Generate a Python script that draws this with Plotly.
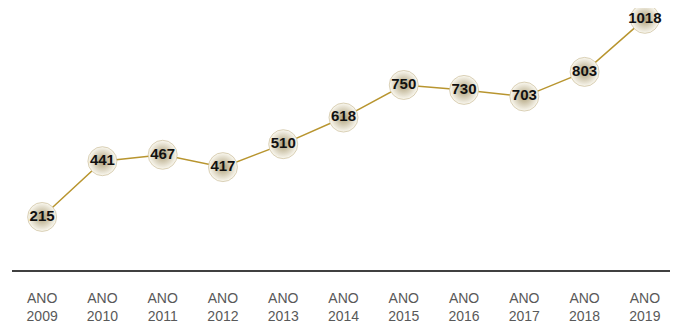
import plotly.graph_objects as go

years = ["2009", "2010", "2011", "2012", "2013", "2014", "2015", "2016", "2017", "2018", "2019"]
values = [215, 441, 467, 417, 510, 618, 750, 730, 703, 803, 1018]
tick_labels = ["ANO<br>" + y for y in years]

fig = go.Figure()

fig.add_trace(go.Scatter(
    x=years,
    y=values,
    mode="lines+markers+text",
    text=[str(v) for v in values],
    textposition="middle center",
    textfont=dict(family="Liberation Sans, Arial", size=15, color="#111111", weight="bold"),
    line=dict(color="#b8952f", width=1.5),
    marker=dict(
        size=29,
        color="#fbf9f1",
        gradient=dict(type="radial", color="#ad9f78"),
        line=dict(width=0.6, color="#c2b48c"),
    ),
    cliponaxis=False,
    hoverinfo="skip",
))

# page body adds an 8px margin, so the figure is sized 8px smaller
fig.update_xaxes(
    type="category",
    tickvals=years,
    ticktext=tick_labels,
    range=[-0.5, 10.5],
    showline=True,
    linecolor="#404040",
    linewidth=2,
    showgrid=False,
    zeroline=False,
    ticks="",
    ticklabelstandoff=14,
    tickfont=dict(family="Liberation Sans, Arial", size=14, color="#595959"),
)
fig.update_yaxes(
    range=[0, 1062],
    visible=False,
    showgrid=False,
    zeroline=False,
)

fig.update_layout(
    width=670,
    height=315,
    margin=dict(l=4, r=3, t=0, b=53),
    plot_bgcolor="white",
    paper_bgcolor="white",
    showlegend=False,
)

fig.write_html("out.html")
